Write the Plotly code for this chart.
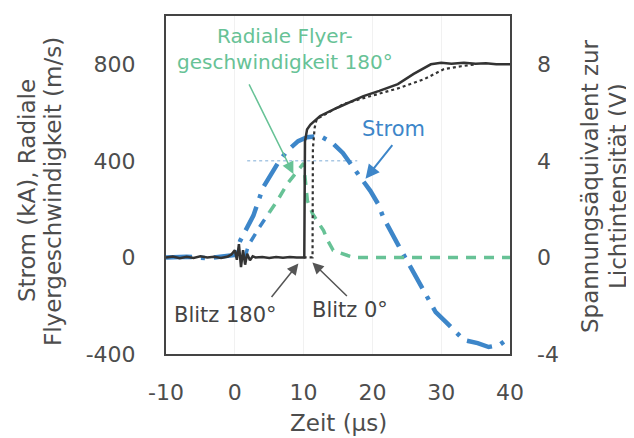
import plotly.graph_objects as go

# ---------------- data ----------------
# Strom (kA), left axis
strom_t = [-10, -7, -4, -2, 0, 0.8, 2.7, 4.1, 6.3, 7.6, 9.2, 10.5, 12.4, 14.2, 15.7, 18.3, 19.7,
           20.8, 21.6, 23.8, 26.0, 28.0, 29.2, 30.7, 33.3, 35.3, 36.9, 38.5, 40]
strom_v = [0, 3, -3, 2, 10, 70, 173, 289, 392, 441, 482, 498, 503, 474, 433, 330, 276,
           223, 165, 49, -62, -165, -227, -268, -342, -355, -371, -362, -330]

# Radiale Flyergeschwindigkeit 180° (m/s), left axis
vel_t = [1.5, 1.95, 3.56, 5.01, 6.18, 7.64, 9.1, 10.0, 10.55, 11.3, 12.9, 13.5, 14.3, 15.4,
         16.4, 17.3, 20, 30, 40]
vel_v = [0, 49, 124, 186, 235, 305, 359, 390, 235, 181, 111, 70, 29, 16,
         8, 0, 0, 0, 0]

# Blitz 180° light intensity (V), right axis
blitz180_t = [-10, -9, -8, -7, -6, -5, -4, -3, -2, -1, -0.5, 0, 0.3, 0.6, 0.9, 1.2, 1.5, 1.8,
              2.2, 2.6, 3, 4, 5, 6, 7, 8, 9, 10.1, 10.2, 10.5, 11.0, 12.4, 14.9, 17, 18.7,
              21, 23.7, 26, 28.5, 30, 31.5, 33.3, 35, 36.5, 38, 40]
blitz180_v = [0, 0.04, -0.03, 0.03, -0.02, 0.05, 0.0, 0.03, -0.02, 0.04, 0.12, 0.3, -0.1,
              0.55, -0.4, 0.3, -0.3, 0.15, -0.12, 0.05, 0, 0.02, -0.02, 0.02, -0.01, 0.02,
              0.0, 0, 4.8, 5.3, 5.5, 5.86, 6.2, 6.45, 6.68, 6.9, 7.18, 7.6, 8.0, 8.06,
              8.02, 8.06, 8.02, 8.04, 8.0, 8.0]

# Blitz 0° light intensity (V), right axis
blitz0_t = [10, 11.3, 11.35, 11.6, 11.9, 13.9, 15.8, 18.7, 23.7, 27.5, 30.4, 32.9, 35]
blitz0_v = [0, 0, 4.5, 5.36, 5.73, 6.06, 6.35, 6.6, 7.0, 7.38, 7.8, 7.92, 8.0]

# faint dotted reference at 400
ref_t = [1.8, 17.8]
ref_v = [400, 400]

x_ticks = [-10, 0, 10, 20, 30, 40]
x_ticktext = ["-10", "0", "10", "20", "30", "40"]
y1_ticks = [-400, 0, 400, 800]
y1_ticktext = ["-400", "0", "400", "800"]
y2_ticks = [-4, 0, 4, 8]
y2_ticktext = ["-4", "0", "4", "8"]

BLUE = "#3d86c9"
GREEN = "#67c296"
DARK = "#333333"
GRAY = "#4d4d4d"
FONT = "DejaVu Sans"

fig = go.Figure()

fig.add_trace(go.Scatter(x=ref_t, y=ref_v, mode="lines",
                         line=dict(color="#a9c8e4", width=1.5, dash="dot"),
                         showlegend=False, hoverinfo="skip"))
fig.add_trace(go.Scatter(x=strom_t, y=strom_v, mode="lines",
                         line=dict(color=BLUE, width=4.5, dash="26px,9px,4px,9px"),
                         showlegend=False))
fig.add_trace(go.Scatter(x=vel_t[:4], y=vel_v[:4], mode="lines",
                         line=dict(color=BLUE, width=3.5, dash="9px,8px"),
                         showlegend=False))
fig.add_trace(go.Scatter(x=vel_t[3:], y=vel_v[3:], mode="lines",
                         line=dict(color=GREEN, width=3.5, dash="10px,8px"),
                         showlegend=False))
fig.add_trace(go.Scatter(x=blitz0_t, y=blitz0_v, mode="lines", yaxis="y2",
                         line=dict(color=DARK, width=2.2, dash="dot"),
                         showlegend=False))
fig.add_trace(go.Scatter(x=blitz180_t, y=blitz180_v, mode="lines", yaxis="y2",
                         line=dict(color=DARK, width=2.5),
                         showlegend=False))

tickfont = dict(family=FONT, size=22, color=GRAY)

# page body has an 8px margin, so the figure is 8px smaller and shifted
fig.update_layout(
    width=626, height=430,
    margin=dict(l=158, r=124, t=6, b=84),
    paper_bgcolor="white", plot_bgcolor="white",
    font=dict(family=FONT),
    xaxis=dict(range=[-10, 40], tickvals=x_ticks, ticktext=x_ticktext, showline=True,
               linecolor="#444", linewidth=2, mirror=True, showgrid=True,
               gridcolor="#f1f1f1", zeroline=False, ticks="", tickfont=tickfont,
               ticklabelstandoff=18),
    yaxis=dict(range=[-400, 1000], tickvals=y1_ticks, ticktext=y1_ticktext, showline=True,
               linecolor="#444", linewidth=2, mirror=True, showgrid=False, zeroline=False,
               ticks="", tickfont=tickfont, ticklabelstandoff=24),
    yaxis2=dict(range=[-4, 10], tickvals=y2_ticks, ticktext=y2_ticktext, overlaying="y",
                side="right", showline=False, showgrid=False, zeroline=False, ticks="",
                tickfont=tickfont, ticklabelstandoff=26),
)

annos = []
# axis titles
title_font = dict(family=FONT, size=23, color=GRAY)
annos.append(dict(text="Zeit (µs)", xref="paper", yref="paper", x=0.5, y=-0.203,
                  xanchor="center", yanchor="middle", showarrow=False, font=title_font))
annos.append(dict(text="Strom (kA), Radiale", xref="paper", yref="paper", x=-0.404, y=0.482,
                  xanchor="center", yanchor="middle", textangle=-90, showarrow=False,
                  font=title_font))
annos.append(dict(text="Flyergeschwindigkeit (m/s)", xref="paper", yref="paper", x=-0.3285,
                  y=0.482, xanchor="center", yanchor="middle", textangle=-90,
                  showarrow=False, font=title_font))
annos.append(dict(text="Spannungsäquivalent zur", xref="paper", yref="paper", x=1.2326,
                  y=0.497, xanchor="center", yanchor="middle", textangle=-90,
                  showarrow=False, font=title_font))
annos.append(dict(text="Lichtintensität (V)", xref="paper", yref="paper", x=1.314,
                  y=0.497, xanchor="center", yanchor="middle", textangle=-90,
                  showarrow=False, font=title_font))

# labels
annos.append(dict(text="Radiale Flyer-<br>geschwindigkeit 180°", x=7.35, y=862,
                  xref="x", yref="y", showarrow=False, xanchor="center", yanchor="middle",
                  font=dict(family=FONT, size=20, color=GREEN)))
annos.append(dict(text="Strom", x=23.1, y=532, xref="x", yref="y", showarrow=False,
                  font=dict(family=FONT, size=21, color=BLUE)))
annos.append(dict(text="Blitz 180°", x=-1.4, y=-239, xref="x", yref="y", showarrow=False,
                  font=dict(family=FONT, size=21, color="#444")))
annos.append(dict(text="Blitz 0°", x=16.8, y=-219, xref="x", yref="y", showarrow=False,
                  font=dict(family=FONT, size=21, color="#444")))

# arrows
annos.append(dict(text="", x=8.51, y=346, xref="x", yref="y", ax=-45, ay=-91,
                  showarrow=True, arrowhead=2, arrowsize=1.6, arrowwidth=1.5,
                  arrowcolor=GREEN))
annos.append(dict(text="", x=19.0, y=326, xref="x", yref="y", ax=28, ay=-35,
                  showarrow=True, arrowhead=2, arrowsize=1.4, arrowwidth=2,
                  arrowcolor=BLUE))
annos.append(dict(text="", x=9.24, y=-25, xref="x", yref="y", ax=-28, ay=35,
                  showarrow=True, arrowhead=2, arrowsize=1.5, arrowwidth=1.5,
                  arrowcolor="#555"))
annos.append(dict(text="", x=11.28, y=-21, xref="x", yref="y", ax=36, ay=35,
                  showarrow=True, arrowhead=2, arrowsize=1.5, arrowwidth=1.5,
                  arrowcolor="#555"))

fig.update_layout(annotations=annos)

fig.write_html("out.html")
